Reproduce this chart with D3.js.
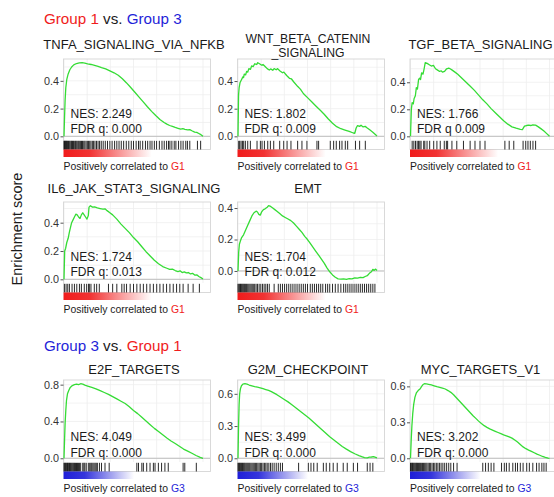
<!DOCTYPE html>
<html>
<head>
<meta charset="utf-8">
<script src="https://cdn.jsdelivr.net/npm/d3@7"></script>
<style>
  body { margin: 0; background: #fff; }
  svg { display: block; font-family: "Liberation Sans", Arial, Helvetica, sans-serif; }
</style>
</head>
<body>
<svg id="chart" width="554" height="497"></svg>
<script>
// ---- Gene sets, statistics and enrichment traces ----
const setNames = ["TNFA_SIGNALING_VIA_NFKB", "WNT_BETA_CATENIN_SIGNALING", "TGF_BETA_SIGNALING",
  "IL6_JAK_STAT3_SIGNALING", "EMT", "E2F_TARGETS", "G2M_CHECKPOINT", "MYC_TARGETS_V1"];
const titleLines = [["TNFA_SIGNALING_VIA_NFKB"], ["WNT_BETA_CATENIN", "_SIGNALING"], ["TGF_BETA_SIGNALING"],
  ["IL6_JAK_STAT3_SIGNALING"], ["EMT"], ["E2F_TARGETS"], ["G2M_CHECKPOINT"], ["MYC_TARGETS_V1"]];
const nesValues = [2.249, 1.802, 1.766, 1.724, 1.704, 4.049, 3.499, 3.202];
const fdrValues = [0.000, 0.009, 0.009, 0.013, 0.012, 0.000, 0.000, 0.000];
const fdrPrefix = ["FDR q:", "FDR q:", "FDR q", "FDR q:", "FDR q:", "FDR q:", "FDR q:", "FDR q:"];
const enrichedIn = ["G1", "G1", "G1", "G1", "G1", "G3", "G3", "G3"];
const yTicks = [[0, 0.2, 0.4], [0, 0.2, 0.4], [0, 0.2, 0.4], [0, 0.2, 0.4], [0, 0.2, 0.4],
  [0, 0.4, 0.8], [0, 0.3, 0.6], [0, 0.3, 0.6]];
const headers = [
  { parts: [["Group 1", "G1"], [" vs. ", null], ["Group 3", "G3"]] },
  { parts: [["Group 3", "G3"], [" vs. ", null], ["Group 1", "G1"]] }
];

// running enrichment score: [position in ranked list (%), ES]
const tnfaCurve = [[0,0],[0.4,0.14],[0.8,0.26],[1.3,0.35],[2,0.41],[3,0.45],[4.2,0.48],[5.5,0.5],[7,0.515],[9,0.525],[11,0.53],[13,0.531],[15,0.527],[17,0.522],[19.5,0.518],[22,0.512],[24.5,0.505],[27,0.496],[30,0.486],[33,0.472],[36,0.458],[39,0.44],[42,0.415],[45,0.385],[48,0.352],[51,0.318],[54,0.283],[57,0.248],[60,0.213],[63,0.18],[66,0.15],[69,0.122],[72,0.1],[74,0.088],[76,0.078],[78,0.072],[80,0.064],[82,0.058],[84,0.052],[85.5,0.055],[87,0.05],[89,0.046],[90.5,0.048],[92,0.04],[94,0.03],[95.5,0.028],[97,0.02],[98.5,0.012],[100,0]];
const wntCurve = [[0,0],[0.4,0.3],[0.8,0.35],[1.5,0.39],[2.5,0.41],[3.5,0.43],[4,0.425],[4.5,0.45],[5.5,0.445],[6.2,0.47],[7,0.465],[7.8,0.49],[9,0.485],[9.8,0.51],[11,0.505],[12,0.525],[13.5,0.52],[14.2,0.533],[15.5,0.525],[17,0.515],[18,0.52],[19.5,0.505],[21,0.49],[22.5,0.48],[23.5,0.488],[25,0.478],[26,0.49],[27.5,0.482],[28.5,0.49],[30,0.475],[32,0.46],[33,0.465],[35,0.44],[37,0.42],[38.5,0.415],[40,0.395],[43,0.36],[45,0.34],[47,0.31],[50,0.28],[53,0.25],[56,0.22],[59,0.19],[62,0.16],[65,0.125],[68,0.095],[71,0.07],[74,0.055],[77,0.045],[80,0.035],[83,0.024],[84,0.022],[85,0.06],[86,0.078],[87.5,0.072],[88.5,0.08],[90,0.068],[91.5,0.072],[93,0.06],[95,0.045],[97,0.03],[99,0.012],[100,0.003]];
const tgfCurve = [[0,0],[0.6,0.2],[1.2,0.25],[2,0.24],[2.6,0.28],[3.5,0.3],[4.2,0.36],[5,0.35],[5.8,0.42],[6.5,0.43],[7.2,0.42],[8,0.47],[9,0.46],[9.8,0.5],[10.6,0.545],[12,0.54],[13.5,0.53],[15,0.52],[16.5,0.525],[18,0.5],[19.5,0.49],[21,0.48],[22,0.485],[23,0.475],[24.5,0.48],[26,0.5],[27.5,0.505],[28.5,0.5],[30,0.49],[32,0.475],[34,0.46],[37,0.43],[40,0.4],[43,0.37],[46,0.34],[49,0.305],[52,0.27],[55,0.24],[58,0.205],[61,0.175],[64,0.145],[67,0.115],[70,0.09],[73,0.07],[76,0.06],[79,0.052],[80.5,0.05],[82,0.075],[83.5,0.08],[85,0.083],[86.5,0.08],[88,0.085],[90,0.083],[92,0.07],[94,0.055],[96,0.04],[98,0.02],[100,0]];
const il6Curve = [[0,0],[0.5,0.2],[1.2,0.22],[2,0.26],[3,0.29],[3.8,0.33],[4.5,0.36],[5.5,0.4],[6.5,0.42],[7.5,0.44],[8.5,0.46],[9.5,0.455],[10.5,0.44],[11.5,0.43],[12.5,0.455],[13.5,0.47],[14.5,0.455],[15.5,0.44],[16.5,0.425],[17.5,0.45],[18,0.51],[19,0.52],[20.5,0.51],[22,0.512],[24,0.505],[26,0.5],[28,0.495],[29.5,0.498],[31,0.485],[33,0.47],[35,0.455],[38,0.425],[41,0.39],[44,0.36],[47,0.33],[50,0.295],[53,0.265],[56,0.23],[59,0.195],[62,0.165],[65,0.135],[68,0.11],[71,0.09],[74,0.078],[76,0.07],[78,0.072],[80,0.062],[82,0.055],[83.5,0.06],[85,0.048],[86.5,0.052],[88,0.045],[89.5,0.048],[91,0.038],[92.5,0.042],[94,0.03],[95.5,0.032],[97,0.02],[98.5,0.012],[100,0.002]];
const emtCurve = [[0,0],[0.5,0.12],[1,0.17],[1.7,0.19],[2.5,0.21],[4,0.23],[5.5,0.26],[7,0.29],[8.5,0.32],[10,0.35],[11.5,0.37],[13,0.38],[14,0.375],[15,0.36],[16,0.355],[17,0.375],[18.3,0.39],[19.5,0.395],[21,0.405],[22,0.415],[23.5,0.41],[25,0.4],[26.5,0.39],[28,0.38],[30,0.365],[32,0.35],[34,0.34],[36,0.33],[38,0.32],[40,0.305],[42,0.285],[44,0.265],[46,0.245],[48,0.22],[50,0.2],[52,0.175],[54,0.15],[56,0.125],[58,0.1],[60,0.075],[62,0.05],[64,0.02],[66,-0.005],[68,-0.025],[70,-0.04],[72,-0.05],[74,-0.052],[76,-0.05],[78,-0.053],[80,-0.048],[82,-0.05],[84,-0.044],[86,-0.046],[88,-0.04],[90,-0.042],[91.5,-0.035],[93,-0.03],[94.5,-0.015],[96,-0.005],[97,0.01],[98,0.004],[99,0.012],[100,0.003]];
const e2fCurve = [[0,0],[0.4,0.2],[0.8,0.38],[1.3,0.52],[1.8,0.63],[2.5,0.7],[3.5,0.74],[4.5,0.77],[6,0.79],[7.5,0.8],[9,0.805],[10.5,0.8],[12,0.81],[13.5,0.805],[15,0.795],[17,0.785],[20,0.77],[23,0.755],[26,0.735],[29,0.715],[32,0.695],[35,0.67],[38,0.645],[41,0.62],[44,0.595],[47,0.56],[50,0.52],[53,0.485],[56,0.445],[59,0.405],[62,0.365],[65,0.325],[68,0.29],[71,0.255],[74,0.22],[77,0.188],[80,0.16],[83,0.13],[86,0.1],[89,0.078],[92,0.055],[95,0.03],[98,0.01],[100,0]];
const g2mCurve = [[0,0],[0.4,0.3],[0.8,0.5],[1.2,0.6],[1.8,0.65],[2.5,0.675],[3.5,0.69],[5,0.694],[6.5,0.69],[8,0.682],[10,0.675],[12,0.668],[14,0.662],[16,0.656],[18,0.648],[20,0.64],[22,0.632],[24,0.62],[26,0.607],[28,0.592],[30,0.575],[33,0.55],[36,0.525],[39,0.495],[42,0.465],[45,0.435],[48,0.405],[51,0.375],[54,0.34],[57,0.305],[60,0.27],[63,0.235],[66,0.2],[69,0.17],[72,0.14],[75,0.11],[78,0.085],[81,0.062],[84,0.042],[87,0.025],[89,0.015],[91,0.006],[93,0.004],[94.5,0.01],[96,0.012],[97.5,0.015],[99,0.008],[100,0.003]];
const mycCurve = [[0,0],[0.5,0.15],[1,0.27],[1.6,0.37],[2.3,0.45],[3.2,0.51],[4.2,0.545],[5.5,0.565],[7,0.58],[8,0.6],[9,0.615],[10,0.622],[11.5,0.62],[13,0.617],[15,0.612],[17,0.605],[19,0.598],[21,0.592],[23,0.585],[25,0.578],[27,0.565],[29,0.55],[31,0.53],[33,0.505],[35,0.48],[37,0.455],[39,0.43],[41,0.405],[43,0.38],[45,0.355],[47,0.333],[49,0.31],[51,0.29],[53,0.272],[55,0.258],[57,0.245],[59,0.235],[61,0.225],[63,0.215],[65,0.205],[67,0.195],[69,0.187],[71,0.178],[73,0.168],[75,0.152],[77,0.135],[79,0.115],[81,0.095],[83,0.08],[85,0.068],[87,0.057],[89,0.046],[91,0.035],[93,0.025],[95,0.015],[97,0.007],[99,0.001],[100,0]];

// positions (%) of gene-set members in the ranked list
const tnfaHits = [0,0.4,0.8,1.2,1.7,2.1,2.6,3.2,3.7,4.3,5,5.5,6.1,6.8,7.4,8.2,8.8,9.5,10.3,11,11.8,12.6,13.3,14.2,15,15.9,16.8,17.6,18.5,19.4,20.4,21.3,22.3,23.4,24.5,25.6,26.8,28.2,29.7,31.3,33,34.6,36.4,38,39.6,41.2,42.9,44.8,46.6,48.4,50,51.9,53.6,54.8,56.6,58.6,60.2,61.9,63.3,65,66.6,68.6,70.5,72.1,73.8,75.2,76.2,77.6,79.3,80.5,82.4,84.1,85.7,87.6,88.8,90.5,96,98.3];
const wntHits = [0.5,1.2,2.2,3.2,4.1,5.3,7,8.9,13.7,16.1,17.3,19,21.4,23.3,25.7,30,32.9,35.3,38.1,42.9,46,49.6,56.8,58,66.4,68.8,70.7,73.1,74.8,77.2,78.9,84.5,87.5,91.6];
const tgfHits = [1.2,2.4,3.6,4.8,5.8,6.7,7.6,9.5,10.3,11.9,13.8,16.7,19,21.4,24.3,25.8,26.7,29.8,33.3,38.1,42.9,46.4,50,53.6,67.9,71,74.3,81,82.9,84.5,86.2,88.1,90];
const il6Hits = [0.3,1.5,2.7,3.9,5.8,7.5,9.2,11.1,12.5,14.6,16.3,17.7,18.2,19.4,21.8,23.5,25.4,32,35,38,41.6,43.3,45,47.6,50,52.4,54.8,57.1,59.5,61.9,64.3,66.7,69,71.4,73.8,76.2,78.6,81,83.3,85.7,89.3,92.9,97.4];
const emtHits = [0,0.6,1.2,1.8,2.4,3,3.6,4.2,4.8,5.5,6.2,7,7.8,8.6,9.4,10.2,11,12,13,14,15.2,16.4,17.6,18.8,20,21.2,22.5,26,29,30.5,32,33.5,35,36.5,38,39.5,41,42.5,44,45.5,47,48.5,50,52,53.5,55,56.5,58,59.5,61,63,64.5,66,68,70,72,74,76,77.5,79,80.5,82,83.5,85,86.5,88,89.5,91,92.5,94,95.5,97,98.5];
const e2fHits = [0,0.5,1,1.5,2,2.5,3,3.5,4,4.6,5.2,5.8,6.4,7,7.6,8.3,9,9.7,10.4,11.2,12,13.5,14.3,15,16,17.5,18.5,19.3,20,20.8,21.6,22.4,23.2,24,25.5,27,29.5,32.5,52.4,53.6,56,57.1,59.5,61.9,64.3,65.5,67.9,70.2,72.6,75,85.7,86.9,95.2];
const g2mHits = [0,0.5,1,1.5,2,2.6,3.2,3.8,4.4,5,5.7,6.4,7.1,7.8,8.5,9.3,10.1,10.9,11.7,12.5,13.4,14.3,15.2,16.1,17,18,19,20,21,22.2,23.4,24.6,26,27.5,29,30.5,32,43.6,50.6,52.5,54.5,57,61.4,63.5,66,68.5,71.4,75.7,78.6,83,86,93,95,97];
const mycHits = [0,0.5,1,1.5,2,2.6,3.2,3.8,4.4,5,5.7,6.4,7.1,7.8,8.6,9.4,10.2,11,11.8,12.7,13.6,14.5,15.5,16.5,17.5,18.6,19.7,20.8,22,23.3,24.6,26,27.5,29,31,33.5,52,54,56,58,60,65.5,67.5,69,71,73.6,75.5,77,79,81,83.6,85.5,88,90.7,92.5,94.5,96,97.6];

const curves = [tnfaCurve, wntCurve, tgfCurve, il6Curve, emtCurve, e2fCurve, g2mCurve, mycCurve];
const hitSets = [tnfaHits, wntHits, tgfHits, il6Hits, emtHits, e2fHits, g2mHits, mycHits];

// ---- Layout ----
const panelCol = [0, 1, 2, 0, 1, 0, 1, 2];
const panelRow = [0, 0, 0, 1, 1, 2, 2, 2];
const colLeft = [63.5, 237.5, 410];
const rows = [
  { top: 59, h: 81, titleY: 48.7, nesDy: 22.5, fdrDy: 7.5 },
  { top: 202, h: 81, titleY: 192.5, nesDy: 22.5, fdrDy: 7.5 },
  { top: 380, h: 82, titleY: 374, nesDy: 21, fdrDy: 5 }
];
const wrappedTitleY = [42.6, 56.6];   // baselines of a two-line title
const boxW = 147, listW = 139.5, barH = 9.5, gradH = 7.5;
const groupColor = { G1: "#f01c1c", G3: "#1f1fd8" };
const gradWidth = { G1: 0.6, G3: 0.48 };
const textColor = "#1a1a1a";

const svg = d3.select("#chart");
const defs = svg.append("defs");
Object.keys(groupColor).forEach(k => {
  const lg = defs.append("linearGradient").attr("id", "grad" + k).attr("x1", 0).attr("x2", 1).attr("y1", 0).attr("y2", 0);
  lg.append("stop").attr("offset", 0).attr("stop-color", groupColor[k]).attr("stop-opacity", 1);
  lg.append("stop").attr("offset", 0.3).attr("stop-color", groupColor[k]).attr("stop-opacity", 0.9);
  lg.append("stop").attr("offset", 1).attr("stop-color", groupColor[k]).attr("stop-opacity", 0);
});

// section headers
const headerY = [23.5, 350.5];
headers.forEach((h, i) => {
  const t = svg.append("text").attr("x", 44).attr("y", headerY[i]).attr("font-size", 15.2);
  h.parts.forEach(([txt, g]) => {
    t.append("tspan").text(txt).attr("fill", g ? groupColor[g] : textColor);
  });
});

// shared y-axis title
svg.append("text")
  .attr("transform", "translate(22,229) rotate(-90)")
  .attr("text-anchor", "middle")
  .attr("font-size", 14.5)
  .attr("fill", textColor)
  .text("Enrichment score");

const x = d3.scaleLinear().domain([0, 100]).range([0.5, listW]);
const gridX = [0, 100 / 6, 200 / 6, 50, 400 / 6, 500 / 6, 100];

setNames.forEach((name, i) => {
  const row = rows[panelRow[i]];
  const left = colLeft[panelCol[i]];
  const g = svg.append("g").attr("transform", `translate(${left},${row.top})`);
  const data = curves[i];
  const lo = d3.min(data, d => d[1]), hi = d3.max(data, d => d[1]);
  const pad = (hi - lo) * 0.05;
  const y = d3.scaleLinear().domain([lo - pad, hi + pad]).range([row.h, 0]);

  // panel background and grid
  g.append("rect").attr("width", boxW).attr("height", row.h).attr("fill", "#fff");
  const ticks = yTicks[i];
  const step = ticks[1] - ticks[0];
  const minor = d3.range(ticks[0] - step / 2, hi + pad, step / 2).filter(v => v > lo - pad);
  g.selectAll(".hgrid").data(minor).join("line")
    .attr("x1", 0).attr("x2", boxW)
    .attr("y1", d => y(d)).attr("y2", d => y(d))
    .attr("stroke", "#efefef").attr("stroke-width", 0.8);
  g.selectAll(".vgrid").data(gridX).join("line")
    .attr("x1", d => x(d)).attr("x2", d => x(d))
    .attr("y1", 0).attr("y2", row.h)
    .attr("stroke", "#ededed").attr("stroke-width", 0.8);
  g.append("line").attr("x1", 0).attr("x2", boxW).attr("y1", y(0)).attr("y2", y(0))
    .attr("stroke", "#b8b8b8").attr("stroke-width", 0.9);
  g.append("rect").attr("x", 0).attr("y", 0).attr("width", boxW).attr("height", row.h + barH)
    .attr("fill", "none").attr("stroke", "#d6d6d6").attr("stroke-width", 0.9);

  // y axis
  const axis = g.append("g").call(
    d3.axisLeft(y).tickValues(ticks).tickSize(3).tickPadding(1.5).tickFormat(d3.format(".1f")));
  axis.select(".domain").remove();
  axis.selectAll("line").attr("stroke", "#555");
  axis.selectAll("text").attr("fill", "#333").attr("font-size", 10.8)
    .attr("font-family", "'Liberation Sans', Arial, sans-serif");

  // running enrichment score
  g.append("path").datum(data)
    .attr("d", d3.line().x(d => x(d[0])).y(d => y(d[1])))
    .attr("fill", "none").attr("stroke", "#35dc35").attr("stroke-width", 1.3)
    .attr("stroke-linejoin", "round");

  // NES / FDR
  g.append("text").attr("x", 7).attr("y", row.h - row.nesDy).attr("font-size", 12).attr("fill", textColor)
    .text("NES: " + d3.format(".3f")(nesValues[i]));
  g.append("text").attr("x", 7).attr("y", row.h - row.fdrDy).attr("font-size", 12).attr("fill", textColor)
    .text(fdrPrefix[i] + " " + d3.format(".3f")(fdrValues[i]));

  // hit barcode
  g.selectAll(".hit").data(hitSets[i]).join("line")
    .attr("x1", d => x(d)).attr("x2", d => x(d))
    .attr("y1", row.h + 0.8).attr("y2", row.h + barH)
    .attr("stroke", "#111").attr("stroke-width", 0.9);

  // ranked-metric colour bar
  const grp = enrichedIn[i];
  g.append("rect").attr("x", 0).attr("y", row.h + barH)
    .attr("width", boxW * gradWidth[grp]).attr("height", gradH)
    .attr("fill", `url(#grad${grp})`);

  g.append("text").attr("x", 0).attr("y", row.h + 29.5).attr("font-size", 10.4).attr("fill", textColor)
    .call(t => {
      t.append("tspan").text("Positively correlated to ");
      t.append("tspan").text(grp).attr("fill", groupColor[grp]);
    });

  // title (wrapped onto two lines where needed)
  const lines = titleLines[i];
  lines.forEach((ln, k) => {
    const baseY = lines.length > 1 ? wrappedTitleY[k] : row.titleY;
    g.append("text")
      .attr("x", 70.5)
      .attr("y", baseY - row.top)
      .attr("text-anchor", "middle")
      .attr("font-size", lines.length > 1 ? 12.2 : 13)
      .attr("fill", textColor)
      .text(ln);
  });
});
</script>
</body>
</html>
